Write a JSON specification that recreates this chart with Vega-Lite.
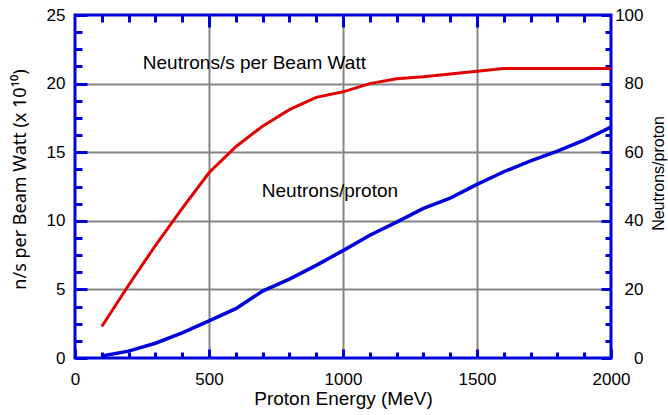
{
  "$schema": "https://vega.github.io/schema/vega-lite/v6.json",
  "width": 536,
  "height": 343,
  "autosize": {"type": "none"},
  "padding": {"left": 75, "top": 15, "right": 57, "bottom": 57},
  "background": "white",
  "config": {
    "view": {"stroke": "#0000dd", "strokeWidth": 3},
    "font": "Liberation Sans",
    "axis": {
      "domain": false,
      "labelFont": "Liberation Sans",
      "titleFont": "Liberation Sans",
      "labelColor": "#000000",
      "titleColor": "#000000",
      "titleFontWeight": "normal",
      "labelFontSize": 17,
      "titleFontSize": 19,
      "tickColor": "#0000dd",
      "tickWidth": 3,
      "gridColor": "#858585",
      "gridWidth": 2,
      "labelFlush": false,
      "labelOverlap": false,
      "tickCount": 200
    }
  },
  "data": {
    "values": [
      {"energy": 100, "nsw": 2.3, "npp": 0.6},
      {"energy": 200, "nsw": 5.3, "npp": 2.0},
      {"energy": 300, "nsw": 8.2, "npp": 4.3},
      {"energy": 400, "nsw": 10.9, "npp": 7.3},
      {"energy": 500, "nsw": 13.5, "npp": 10.8},
      {"energy": 600, "nsw": 15.4, "npp": 14.4},
      {"energy": 700, "nsw": 16.9, "npp": 19.5},
      {"energy": 800, "nsw": 18.1, "npp": 23.0},
      {"energy": 900, "nsw": 19.0, "npp": 27.0},
      {"energy": 1000, "nsw": 19.4, "npp": 31.3},
      {"energy": 1100, "nsw": 20.0, "npp": 35.8},
      {"energy": 1200, "nsw": 20.35, "npp": 39.6},
      {"energy": 1300, "nsw": 20.5, "npp": 43.6},
      {"energy": 1400, "nsw": 20.7, "npp": 46.6},
      {"energy": 1500, "nsw": 20.9, "npp": 50.6},
      {"energy": 1600, "nsw": 21.1, "npp": 54.3},
      {"energy": 1700, "nsw": 21.1, "npp": 57.5},
      {"energy": 1800, "nsw": 21.1, "npp": 60.3},
      {"energy": 1900, "nsw": 21.1, "npp": 63.5},
      {"energy": 2000, "nsw": 21.1, "npp": 67.3}
    ]
  },
  "layer": [
    {
      "layer": [
        {
          "mark": {"type": "line", "color": "#e10000", "strokeWidth": 3},
          "encoding": {
            "x": {
              "field": "energy", "type": "quantitative",
              "scale": {"domain": [0, 2000], "nice": false, "zero": false},
              "axis": {
                "orient": "bottom",
                "values": [0, 100, 200, 300, 400, 500, 600, 700, 800, 900, 1000, 1100, 1200, 1300, 1400, 1500, 1600, 1700, 1800, 1900, 2000],
                "tickCount": 200,
                "labelOverlap": false,
                "labelExpr": "datum.value % 500 === 0 ? format(datum.value, 'd') : ''",
                "tickSize": {"condition": {"test": "datum.value % 500 === 0", "value": -9}, "value": -6},
                "labelPadding": 22,
                "grid": true,
                "gridOpacity": {"condition": {"test": "datum.value % 500 === 0 && datum.value > 0 && datum.value < 2000", "value": 1}, "value": 0},
                "title": "Proton Energy (MeV)",
                "titleY": 46,
                "titleBaseline": "alphabetic"
              }
            },
            "y": {
              "field": "nsw", "type": "quantitative",
              "scale": {"domain": [0, 25], "nice": false, "zero": false},
              "axis": {
                "orient": "left",
                "values": [0, 1.25, 2.5, 3.75, 5, 6.25, 7.5, 8.75, 10, 11.25, 12.5, 13.75, 15, 16.25, 17.5, 18.75, 20, 21.25, 22.5, 23.75, 25],
                "tickCount": 200,
                "labelOverlap": false,
                "labelExpr": "datum.value % 5 === 0 ? format(datum.value, 'd') : ''",
                "tickSize": {"condition": {"test": "datum.value % 5 === 0", "value": -12}, "value": -7},
                "labelPadding": 22,
                "grid": true,
                "gridOpacity": {"condition": {"test": "datum.value % 5 === 0 && datum.value > 0 && datum.value < 25", "value": 1}, "value": 0},
                "title": "n/s per Beam Watt (x 10¹⁰)",
                "titleFont": "Noto Sans",
                "titleFontSize": 18,
                "titleX": -55,
                "titleY": 164,
                "titleAngle": 270,
                "titleBaseline": "middle",
                "titleAlign": "center"
              }
            }
          }
        },
        {
          "data": {"values": [{"energy": 253, "nsw": 21.06, "label": "Neutrons/s per Beam Watt"}]},
          "mark": {"type": "text", "align": "left", "baseline": "alphabetic", "fontSize": 19, "font": "Liberation Sans", "color": "#000000"},
          "encoding": {
            "x": {"field": "energy", "type": "quantitative"},
            "y": {"field": "nsw", "type": "quantitative"},
            "text": {"field": "label"}
          }
        }
      ]
    },
    {
      "layer": [
        {
          "mark": {"type": "line", "color": "#0000dd", "strokeWidth": 3.5},
          "encoding": {
            "x": {
              "field": "energy", "type": "quantitative",
              "scale": {"domain": [0, 2000], "nice": false, "zero": false},
              "axis": {
                "orient": "top",
                "values": [100, 200, 300, 400, 500, 600, 700, 800, 900, 1000, 1100, 1200, 1300, 1400, 1500, 1600, 1700, 1800, 1900],
                "tickCount": 200,
                "tickSize": {"condition": {"test": "datum.value % 500 === 0", "value": -12}, "value": -7},
                "labels": false,
                "grid": false,
                "title": null
              }
            },
            "y": {
              "field": "npp", "type": "quantitative",
              "scale": {"domain": [0, 100], "nice": false, "zero": false},
              "axis": {
                "orient": "right",
                "values": [0, 5, 10, 15, 20, 25, 30, 35, 40, 45, 50, 55, 60, 65, 70, 75, 80, 85, 90, 95, 100],
                "tickCount": 200,
                "labelOverlap": false,
                "labelExpr": "datum.value % 20 === 0 ? format(datum.value, 'd') : ''",
                "tickSize": {"condition": {"test": "datum.value % 20 === 0", "value": -10}, "value": -6},
                "labelPadding": 42,
                "labelAlign": "right",
                "grid": false,
                "title": "Neutrons/proton",
                "titleFontSize": 16,
                "titleX": 47,
                "titleY": 158,
                "titleAngle": 270,
                "titleBaseline": "middle",
                "titleAlign": "center"
              }
            }
          }
        },
        {
          "data": {"values": [{"energy": 697, "npp": 47.0, "label": "Neutrons/proton"}]},
          "mark": {"type": "text", "align": "left", "baseline": "alphabetic", "fontSize": 19, "font": "Liberation Sans", "color": "#000000"},
          "encoding": {
            "x": {"field": "energy", "type": "quantitative"},
            "y": {"field": "npp", "type": "quantitative"},
            "text": {"field": "label"}
          }
        }
      ]
    }
  ],
  "resolve": {"scale": {"y": "independent"}, "axis": {"x": "independent"}}
}
